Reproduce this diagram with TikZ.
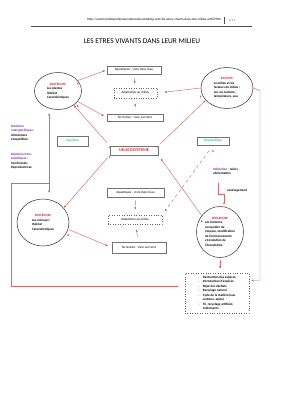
\documentclass[tikz,border=0pt]{standalone}
\usepackage{fontspec}
\setmainfont{Carlito}
\usepackage{tikz}
\usetikzlibrary{arrows.meta,shapes.geometric}
\definecolor{rouge}{RGB}{208,105,105}
\definecolor{titre}{RGB}{215,35,45}
\definecolor{vert}{RGB}{0,176,80}
\definecolor{violet}{RGB}{112,48,160}
\definecolor{bleu}{RGB}{68,114,196}
\newcommand{\petit}{\fontsize{3.3}{4.5}\selectfont}

\begin{document}
\begin{tikzpicture}[x=1pt, y=-1pt,
    ellip/.style = {draw=black!80, ellipse, line width=0.5pt, inner sep=0pt, font=\petit\bfseries},
    boite/.style = {draw=black!55, line width=0.6pt, inner sep=0pt, font=\petit},
    pointil/.style = {boite, draw=black!60, line width=0.45pt, dotted},
    fleche/.style = {draw=rouge, line width=0.45pt, -{Latex[length=2.4pt,width=2pt]}},
    texte/.style = {font=\petit\bfseries, align=left, inner sep=0pt, anchor=north west}]
    \useasboundingbox (0,0) rectangle (283,400);

    % en-tete
    \node[inner sep=0pt, anchor=east, font=\fontsize{3.3}{4}\selectfont] (url) at (221,20) {http://unecharlotteprofesseursdesecoles.eklablog.com/les-etres-vivants-dans-leur-milieu-a2969946};
    \node[inner sep=0pt, font=\fontsize{3.4}{4}\selectfont, text=bleu] (page) at (232,20) {1/11};
    \coordinate (sh) at (224,16.5);
    \coordinate (sb) at (224,24);
    \coordinate (hg) at (31,26);
    \coordinate (hd) at (252,26);
    \draw[black!70, line width=0.4pt] (sh) -- (sb);
    \draw[black!70, line width=0.6pt] (hg) -- (hd);
    \node[inner sep=0pt, font=\fontsize{7.4}{9}\selectfont] (titre) at (142,41) {LES ETRES VIVANTS DANS LEUR MILIEU};

    % ellipses
    \node[ellip, minimum width=47, minimum height=37] (plantes) at (58,91)
        {\begin{tabular}{@{}l@{}}\multicolumn{1}{@{}c@{}}{\textcolor{titre}{BIOCENOSE}}\\Les plantes\\Habitat\\Caractéristiques\end{tabular}};
    \node[ellip, minimum width=52, minimum height=41] (biotope) at (227,88)
        {\begin{tabular}{@{}l@{}}\multicolumn{1}{@{}c@{}}{\textcolor{titre}{BIOTOPE}}\\Le milieu et les\\facteurs du milieu :\\sol, air, lumière,\\température, eau\end{tabular}};
    \node[ellip, minimum width=52, minimum height=47] (animaux) at (43,222.5)
        {\begin{tabular}{@{}l@{}}\multicolumn{1}{@{}c@{}}{\textcolor{titre}{BIOCENOSE}}\\Les animaux :\\Habitat\\Caractéristiques\end{tabular}};
    \node[ellip, minimum width=47, minimum height=51] (hommes) at (220,232)
        {\begin{tabular}{@{}l@{}}\multicolumn{1}{@{}c@{}}{\textcolor{titre}{BIOCENOSE}}\\Les hommes,\\occupation de\\l'espace, modification\\de l'environnement\\et évolution de\\l'écosystème\end{tabular}};

    % boites du haut
    \node[boite, minimum width=54, minimum height=8] (aquaH) at (134,70) {Aquatiques : vivre dans l'eau};
    \node[pointil, minimum width=43, minimum height=10] (adaptH) at (135.5,93) {Adaptation au milieu};
    \node[boite, minimum width=56, minimum height=7] (terreH) at (135,117.5) {Terrestres : vivre sur terre};

    % centre
    \node[boite, minimum width=48, minimum height=9, font=\fontsize{4.3}{5}\selectfont\bfseries, text=titre] (eco) at (134,150.5) {UN ECOSYSTEME};
    \node[boite, minimum width=31, minimum height=10, font=\fontsize{3.5}{4}\selectfont, text=vert] (equi) at (72.5,141) {Equilibre};
    \node[boite, minimum width=32, minimum height=8, font=\fontsize{3.5}{4}\selectfont, text=vert] (desequi) at (213,141) {Déséquilibre};

    % boites du bas
    \node[boite, minimum width=57, minimum height=9] (aquaB) at (135.5,192.5) {Aquatiques : vivre dans l'eau};
    \node[pointil, minimum width=54, minimum height=9] (adaptB) at (135,219.5) {Adaptation au milieu};
    \node[boite, minimum width=54, minimum height=11] (terreB) at (139,247.5) {Terrestres : vivre sur terre};

    \node[pointil, minimum width=64, minimum height=40, font=\petit\bfseries] (bilan) at (217,293)
        {\begin{tabular}{@{}l@{\hspace{3.5pt}}l@{}}
        - & Destruction des espèces\\
        - & Introduction d'espèces\\
        - & Rejet des déchets\\
        - & Recyclage naturel\\
        - & Cycle de la matière (eau\\
          & carbone, azote)\\
        - & Tri, recyclage artificiel,\\
          & traitements\end{tabular}};

    % textes libres
    \node[texte] (inter) at (11,124.5) {\textcolor{violet}{Relations}\\\textcolor{violet}{interspécifiques :}\\Alimentaire\\Compétition};
    \node[texte] (intra) at (11,152.5) {\textcolor{violet}{Relations intra-}\\\textcolor{violet}{spécifiques :}\\Territoriales\\Reproductrices};
    \node[texte] (util) at (213,167.5) {\textcolor{violet}{Utilisation :} loisirs -\\alimentation};
    \node[texte, anchor=west] (amenag) at (227,191) {aménagement};

    % fleches
    \path[fleche, shorten >=1.5pt] (plantes.28) edge (aquaH.west);
    \path[fleche, shorten >=3pt] (plantes.-28) edge (terreH.west);
    \path[fleche, shorten <=4pt] (eco.north west) edge (plantes.-42);
    \path[fleche, shorten <=2pt] (eco.north east) edge (biotope.-150);
    \path[fleche, shorten >=7pt] (biotope.west) edge (adaptH.east);
    \path[fleche, shorten <=4pt, shorten >=4pt] (aquaH) edge (adaptH);
    \path[fleche, shorten <=6pt, shorten >=5pt] (terreH) edge (adaptH);
    \path[fleche, shorten <=3pt] (eco.south west) edge (animaux.35);
    \path[fleche, shorten <=1pt, shorten >=4pt] (animaux.-15) edge (terreB.west);
    \path[fleche, shorten >=4pt] (hommes.138) edge (eco.south east);
    \path[fleche, dashed, shorten <=7pt, shorten >=4pt] (desequi.south) edge (adaptB.north east);
    \path[fleche, shorten <=3pt, shorten >=5pt] (aquaB) edge (adaptB);
    \path[fleche, shorten <=5pt, shorten >=5pt] (terreB) edge (adaptB);
    \path[fleche, shorten <=2pt, shorten >=4pt] (hommes) edge (bilan.north -| hommes);

    % liaisons en coude
    \coordinate (vh) at (49,113);
    \coordinate (vb) at (49,193);
    \coordinate (lg) at (49,183);
    \coordinate (lg1) at (11,183);
    \coordinate (lg2) at (11,286.5);
    \coordinate (lg3) at (179,286.5);
    \draw[fleche, {Latex[length=2.4pt,width=2pt]}-{Latex[length=2.4pt,width=2pt]}] (vh) -- (vb);
    \draw[fleche] (lg) -- (lg1) -- (lg2) -- (lg3);

    \coordinate (rd1) at (260,90.5);
    \coordinate (rd2) at (260,280.5);
    \coordinate (rd3) at (251,280.5);
    \draw[fleche] (biotope.east) -- (rd1) -- (rd2) -- (rd3);

    \coordinate (am1) at (218,183);
    \coordinate (am2) at (218,194);
    \coordinate (am3) at (224,194);
    \coordinate (am4) at (224,205);
    \draw[fleche] (am1) -- (am2) -- (am3) -- (am4);
\end{tikzpicture}
\end{document}
